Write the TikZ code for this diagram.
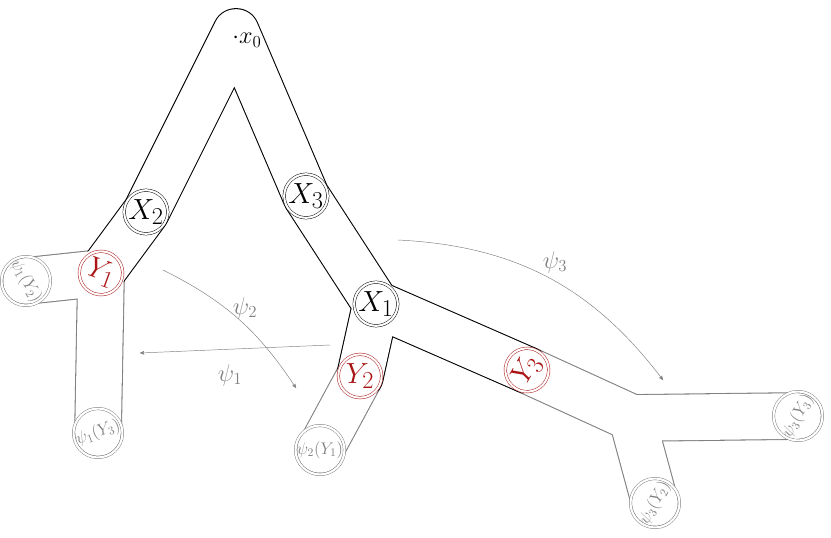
\documentclass[tikz,border=0pt]{standalone}
\usepackage{amsmath}
\usetikzlibrary{arrows}
\definecolor{darkred}{RGB}{170,20,20}
\begin{document}
\begin{tikzpicture}[x={(0.03cm,0)},y={(0,-0.03cm)},
		tubeout/.style={line width=1.4cm+0.9pt,line cap=round,line join=round},
		tubein/.style={line width=1.4cm-0.9pt,white,line cap=round,line join=round},
		ring/.style={circle,draw,double,double distance=1.8pt,minimum size=1.3cm,inner sep=0pt},
		big/.style={font=\Huge},
		small/.style={font=\Large},
		map/.style={gray,->,>=stealth',thin},
		maplabel/.style={gray,font=\huge}]
				\useasboundingbox (0,0) rectangle (831,538);
				% tube centre points
				\coordinate (top) at (236,32);
				\coordinate (x2) at (146,212);
				\coordinate (x3) at (306,196);
				\coordinate (x1) at (376,304);
				\coordinate (y1) at (101,273);
				\coordinate (y2) at (360,376);
				\coordinate (y3) at (527,370);
				\coordinate (a1) at (26,281);
				\coordinate (a3) at (98,433);
				\coordinate (b1) at (320,450);
				\coordinate (c0) at (632,418);
				\coordinate (c2) at (655,503);
				\coordinate (c3) at (798,416);

				\draw[tubeout,gray] (a1) -- (y1) -- (a3) (y2) -- (b1) (y3) -- (c0) -- (c3) (c0) -- (c2);
				\draw[tubeout] (y1) -- (x2) -- (top) -- (x3) -- (x1) -- (y3) (x1) -- (y2);
				\draw[tubein] (a1) -- (y1) -- (a3) (y2) -- (b1) (y3) -- (c0) -- (c3) (c0) -- (c2);
				\draw[tubein] (y1) -- (x2) -- (top) -- (x3) -- (x1) -- (y3) (x1) -- (y2);

				\node[ring,big] (X2) at (x2) {$X_2$};
				\node[ring,big] (X3) at (x3) {$X_3$};
				\node[ring,big] (X1) at (x1) {$X_1$};
				\node[ring,darkred,rotate=-20,big] (Y1) at (y1) {$Y_1$};
				\node[ring,darkred,big] (Y2) at (y2) {$Y_2$};
				\node[ring,darkred,rotate=60,big] (Y3) at (y3) {$Y_3$};
				\node[ring,gray,rotate=-60,small] (PA) at (a1) {$\psi_1(Y_2)$};
				\node[ring,gray,rotate=20,small] (PB) at (a3) {$\psi_1(Y_3)$};
				\node[ring,gray,small] (PC) at (b1) {$\psi_2(Y_1)$};
				\node[ring,gray,rotate=60,small] (PD) at (c2) {$\psi_3(Y_2)$};
				\node[ring,gray,rotate=60,small] (PE) at (c3) {$\psi_3(Y_3)$};
				\node[font=\huge] (x0) at (247,40) {$\cdot x_0$};

				\coordinate (s3) at (398,240);
				\coordinate (e3) at (663,380);
				\coordinate (s2) at (163,270);
				\coordinate (e2) at (296,388);
				\coordinate (s1) at (330,345);
				\coordinate (e1) at (140,353);
				\draw[map] (s3) to[bend left=25] (e3);
				\draw[map] (s2) to[bend left=15] (e2);
				\draw[map] (s1) -- (e1);
				\node[maplabel] (l3) at (555,262) {$\psi_3$};
				\node[maplabel] (l2) at (245,308) {$\psi_2$};
				\node[maplabel] (l1) at (230,375) {$\psi_1$};
			\end{tikzpicture}
\end{document}
